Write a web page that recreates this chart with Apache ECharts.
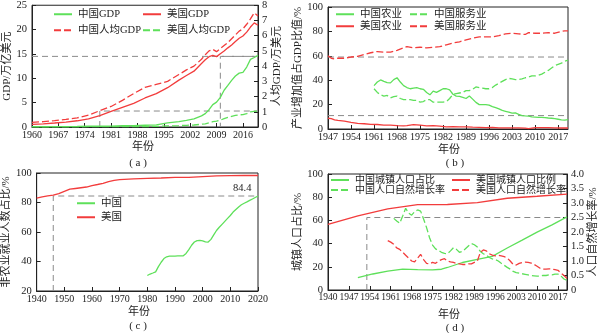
<!DOCTYPE html>
<html>
<head>
<meta charset="utf-8">
<script src="https://cdn.jsdelivr.net/npm/echarts@6/dist/echarts.min.js"></script>
<style>
  html, body { margin: 0; padding: 0; background: #fff; }
  #chart { width: 600px; height: 333px; }
</style>
</head>
<body>
<div id="chart"></div>
<script>
// ---------- (a) GDP and per-capita GDP ----------
const aYears = [1960,1963,1966,1969,1972,1975,1978,1981,1984,1987,1990,1993,1996,1999,2001,2003,2005,2006,2007,2008,2009,2010,2011,2012,2013,2014,2015,2016,2017,2018,2019,2020];
const cnGdp = [0.06,0.05,0.08,0.08,0.11,0.16,0.15,0.20,0.26,0.27,0.36,0.44,0.86,1.09,1.34,1.66,2.29,2.75,3.55,4.59,5.10,6.09,7.55,8.53,9.57,10.48,11.06,11.23,12.31,13.89,14.28,14.72];
const usGdp = [0.54,0.64,0.82,1.02,1.28,1.69,2.35,3.21,4.04,4.86,5.96,6.86,8.07,9.63,10.58,11.46,13.04,13.81,14.45,14.71,14.45,15.05,15.60,16.25,16.84,17.55,18.21,18.70,19.48,20.53,21.38,20.89];
const cnPerCap = [0.30,0.35,0.42,0.50,0.60,0.78,1.07,1.35,1.75,2.20,2.60,2.80,3.00,3.45,3.75,4.00,4.45,4.75,5.00,5.10,4.95,5.15,5.35,5.55,5.80,6.05,6.30,6.45,6.75,7.10,7.50,7.30];
const usPerCap = [0.01,0.01,0.01,0.01,0.01,0.02,0.02,0.02,0.03,0.03,0.03,0.04,0.07,0.09,0.11,0.13,0.18,0.21,0.27,0.35,0.38,0.45,0.55,0.63,0.70,0.76,0.80,0.81,0.88,0.99,1.02,1.05];
const aGuideGdpX = [1960, 2020, 2010, 2010];
const aGuideGdpY = [14.5, 14.5, 14.5, 0];
const aGuidePcX = [1978, 1978, 2020];
const aGuidePcY = [0, 1.05, 1.05];

// ---------- (b) sector shares of GDP ----------
const bUsYears = [1947,1948,1949,1950,1952,1954,1956,1958,1960,1962,1964,1966,1968,1970,1971,1973,1975,1977,1979,1981,1983,1985,1987,1989,1991,1993,1995,1997,1999,2001,2003,2005,2007,2008,2010,2012,2014,2016,2018,2019,2020];
const usAgri = [8.8,8.5,7.5,7.0,6.5,5.5,4.6,4.3,3.8,3.7,3.2,3.1,2.8,2.6,2.8,3.6,3.1,2.6,2.8,2.4,1.7,1.9,1.7,1.8,1.5,1.4,1.2,1.3,0.9,0.9,1.0,1.0,0.7,0.3,1.1,1.1,1.2,0.9,0.8,0.8,0.8];
const usServ = [60.0,58.0,57.5,58.0,58.0,59.0,59.5,61.0,62.5,63.5,63.0,63.0,64.5,66.5,67.5,66.5,67.0,66.5,67.0,67.5,69.0,70.5,71.5,73.0,74.5,75.5,75.5,75.5,76.5,78.0,78.5,78.0,77.5,79.0,78.5,78.5,79.0,78.5,80.0,80.5,80.5];
const bCnYears = [1961,1962,1963,1964,1965,1966,1967,1968,1969,1970,1971,1972,1973,1974,1975,1976,1977,1978,1979,1980,1981,1982,1983,1984,1985,1986,1987,1988,1989,1990,1991,1992,1993,1994,1995,1996,1997,1998,1999,2000,2001,2002,2003,2004,2005,2006,2007,2008,2009,2010,2011,2012,2013,2014,2015,2016,2017,2018,2019,2020];
const cnAgri = [35.5,38.5,40.2,39.0,38.0,37.8,40.5,42.0,38.5,35.5,34.0,33.0,33.5,34.0,33.0,32.5,30.0,28.0,31.0,30.0,31.5,33.0,33.0,32.0,28.5,27.0,26.8,26.0,25.0,27.0,24.5,21.8,20.0,20.0,20.0,19.5,18.3,17.5,16.5,15.2,14.5,13.8,13.0,13.2,12.0,11.0,10.7,10.6,10.0,9.8,9.6,9.5,9.3,9.0,8.8,8.5,8.0,7.5,7.3,7.6];
const cnServ = [33.0,30.0,28.0,27.0,27.5,25.5,26.5,27.0,25.0,24.0,24.0,24.0,23.5,23.5,22.0,22.5,24.0,24.0,22.0,22.0,22.0,22.0,22.5,25.0,28.5,29.0,29.5,30.0,31.5,31.5,32.5,34.5,34.0,33.5,33.0,33.0,34.0,36.0,37.5,39.0,40.5,41.5,41.0,40.5,40.5,41.0,42.0,42.5,43.5,43.5,44.0,45.0,46.5,48.0,50.0,52.0,53.0,54.0,55.5,56.5];
const bGuideLevels = [59, 11];
const bGuideSpan = [1947, 2020];

// ---------- (c) non-agricultural employment share ----------
const cUsYears = [1940,1942,1944,1946,1948,1950,1952,1954,1956,1958,1960,1962,1964,1966,1968,1970,1975,1980,1985,1990,1995,2000,2005,2010,2015,2020];
const usNonAgri = [83.0,83.8,84.5,85.0,86.0,87.5,89.0,89.5,90.0,90.5,91.5,92.2,93.0,94.2,95.0,95.5,96.0,96.4,96.6,97.0,97.0,97.5,98.0,98.2,98.3,98.3];
const cCnYears = [1980,1981,1982,1983,1984,1985,1986,1987,1988,1989,1990,1991,1992,1993,1994,1995,1996,1997,1998,1999,2000,2001,2002,2003,2004,2005,2006,2007,2008,2009,2010,2011,2012,2013,2014,2015,2016,2017,2018,2019,2020];
const cnNonAgri = [30.5,31.5,32.2,33.0,36.5,39.5,42.0,43.2,43.6,43.6,43.7,43.8,43.8,43.9,45.5,48.0,51.0,53.2,54.2,54.3,54.0,53.3,53.2,55.0,58.0,61.0,63.2,65.2,67.2,69.2,71.2,73.5,75.3,77.0,78.5,79.5,80.4,81.4,82.4,83.4,84.4];
const cGuideX = [1946, 1946, 2020];
const cGuideY = [20, 84.4, 84.4];

// ---------- (d) urbanisation and natural growth ----------
const dCnUrbYears = [1950,1955,1960,1965,1970,1975,1978,1980,1985,1990,1995,2000,2005,2010,2015,2020];
const cnUrban = [10.6,13.8,16.2,18.0,17.6,17.4,17.9,19.4,23.7,26.4,29.0,36.2,43.0,49.9,56.1,63.0];
const dUsUrbYears = [1940,1950,1960,1970,1980,1990,2000,2010,2020];
const usUrban = [56.5,64.0,70.0,73.6,73.7,75.3,79.1,80.8,82.7];
const dCnGrowYears = [1962,1963,1964,1965,1966,1967,1968,1969,1970,1971,1972,1973,1974,1975,1976,1977,1978,1979,1980,1981,1982,1983,1984,1985,1986,1987,1988,1989,1990,1991,1992,1993,1994,1995,1996,1997,1998,1999,2000,2001,2002,2003,2004,2005,2006,2007,2008,2009,2010,2011,2012,2013,2014,2015,2016,2017,2018,2019,2020];
const cnGrowth = [2.47,2.38,2.30,2.55,2.82,2.65,2.58,2.70,2.76,2.72,2.45,2.15,1.80,1.55,1.42,1.36,1.30,1.26,1.25,1.35,1.46,1.40,1.30,1.33,1.42,1.52,1.60,1.56,1.48,1.33,1.25,1.20,1.12,1.07,1.05,1.00,0.92,0.85,0.78,0.72,0.64,0.60,0.58,0.56,0.54,0.52,0.50,0.49,0.48,0.48,0.50,0.50,0.52,0.52,0.55,0.55,0.48,0.38,0.33];
const dUsGrowYears = [1960,1961,1962,1963,1964,1965,1966,1967,1968,1969,1970,1971,1972,1973,1974,1975,1976,1977,1978,1979,1980,1981,1982,1983,1984,1985,1986,1987,1988,1989,1990,1991,1992,1993,1994,1995,1996,1997,1998,1999,2000,2001,2002,2003,2004,2005,2006,2007,2008,2009,2010,2011,2012,2013,2014,2015,2016,2017,2018,2019,2020];
const usGrowth = [1.70,1.65,1.58,1.45,1.40,1.30,1.20,1.10,1.00,0.97,1.10,1.23,1.05,0.92,0.90,0.95,0.92,1.00,1.05,1.08,1.00,0.97,0.95,0.92,0.90,0.88,0.88,0.90,0.90,0.95,1.00,1.30,1.38,1.35,1.25,1.20,1.18,1.20,1.18,1.15,1.10,1.00,0.88,0.86,0.92,0.95,0.96,0.95,0.93,0.88,0.82,0.75,0.72,0.72,0.73,0.72,0.70,0.68,0.58,0.50,0.40];
const dGuideX = [1953, 1953, 2020];
const dGuideY = [0, 2.5, 2.5];

// ---------- styling ----------
const FONT = '"Liberation Serif", "Noto Sans CJK SC", serif';
const GREEN = '#5ee05a';
const RED = '#f23c3c';
const GREY = '#8a8a8a';
const INK = '#222';

const pairs = (xs, ys) => xs.map((x, i) => [x, ys[i]]).filter(p => p[1] != null);

function line(name, xs, ys, color, dashed, gi, yi) {
  return {
    name, type: 'line', xAxisIndex: gi, yAxisIndex: yi,
    data: pairs(xs, ys), symbol: 'none', silent: true,
    lineStyle: { color, width: 1.3, type: dashed ? [7, 3] : 'solid' },
    itemStyle: { color }
  };
}
function guide(xs, ys, gi, yi, extra) {
  return Object.assign({
    type: 'line', xAxisIndex: gi, yAxisIndex: yi,
    data: pairs(xs, ys), symbol: 'none', silent: true, z: 1,
    lineStyle: { color: GREY, width: 1, type: [6, 4] }
  }, extra || {});
}

const tick = { show: true, inside: true, length: 4, lineStyle: { color: INK } };
const axLine = { show: true, lineStyle: { color: INK, width: 1 } };
const lab = (m, size, extra) => Object.assign({ fontFamily: FONT, fontSize: size, color: INK, margin: m }, extra || {});
const nameStyle = { fontFamily: FONT, fontSize: 11, color: INK };
const yearFmt = v => String(v);

function xAx(gi, min, max, interval, hideMax, size) {
  return {
    type: 'value', gridIndex: gi, min, max, interval,
    axisLine: axLine, axisTick: tick, splitLine: { show: false },
    axisLabel: lab(3, size || 10, { showMaxLabel: !hideMax, showMinLabel: true, hideOverlap: false, formatter: yearFmt })
  };
}
function yAx(gi, min, max, interval, pos, name, gap, fmt) {
  return {
    type: 'value', gridIndex: gi, min, max, interval, position: pos,
    name, nameLocation: 'middle', nameGap: gap, nameTextStyle: nameStyle,
    axisLine: axLine, axisTick: tick, splitLine: { show: false },
    axisLabel: lab(pos === 'right' ? 4 : 5, 10.5, fmt ? { formatter: fmt } : {})
  };
}

function leg(name, left, top, size) {
  return {
    data: [name], left, top, padding: 0, itemGap: 0,
    itemWidth: 18, itemHeight: 8, selectedMode: false,
    itemStyle: { opacity: 0 },
    textStyle: { fontFamily: FONT, fontSize: size || 10.5, color: INK, padding: [0, 0, 0, 1] }
  };
}
function txt(text, x, y) {
  return { type: 'text', x, y, silent: true,
    style: { text, fill: INK, font: '11px ' + FONT, align: 'center', verticalAlign: 'middle' } };
}

const option = {
  animation: false,
  backgroundColor: '#fff',
  grid: [
    { left: 32, top: 5, width: 226, height: 122, show: true, borderColor: INK, borderWidth: 1 },
    { left: 328, top: 7, width: 240, height: 122, show: true, borderColor: INK, borderWidth: 1 },
    { left: 32, top: 173, width: 226, height: 118, show: true, borderColor: INK, borderWidth: 1 },
    { left: 328, top: 174, width: 241, height: 116, show: true, borderColor: INK, borderWidth: 1 }
  ],
  xAxis: [
    xAx(0, 1960, 2020, 7, true),
    xAx(1, 1947, 2020, 7, true),
    xAx(2, 1940, 2020, 10, false),
    xAx(3, 1940, 2020, 7, true, 9.5)
  ],
  yAxis: [
    yAx(0, 0, 25, 5, 'left', 'GDP/万亿美元', 14),
    yAx(0, 0, 8, 1, 'right', '人均GDP/万美元', 13),
    yAx(1, 0, 100, 20, 'left', '产业增加值占GDP比值/%', 18),
    yAx(2, 20, 100, 20, 'left', '非农业就业人数占比/%', 16),
    yAx(3, 0, 100, 20, 'left', '城镇人口占比/%', 18),
    yAx(3, 0, 4, 0.5, 'right', '人口自然增长率/%', 18, v => (v === 0 ? '0' : v.toFixed(1)))
  ],
  legend: [
    leg('中国GDP', 53, 9), leg('美国GDP', 142, 9),
    leg('中国人均GDP', 53, 25), leg('美国人均GDP', 142, 25),
    leg('中国农业', 335, 9), leg('中国服务业', 409, 9),
    leg('美国农业', 335, 21), leg('美国服务业', 409, 21),
    leg('中国', 76, 198), leg('美国', 76, 212),
    leg('中国城镇人口占比', 330, 175, 10), leg('美国城镇人口比例', 451, 175, 10),
    leg('中国人口自然增长率', 330, 185, 10), leg('美国人口自然增长率', 451, 185, 10)
  ],
  graphic: [
    txt('年份', 143, 147), txt('( a )', 138, 163),
    txt('年份', 449, 150), txt('( b )', 455, 163),
    txt('年份', 139, 312), txt('( c )', 138, 326),
    txt('年份', 449, 315), txt('( d )', 455, 328)
  ],
  series: [
    guide(aGuideGdpX, aGuideGdpY, 0, 0),
    guide(aGuidePcX, aGuidePcY, 0, 1),
    line('中国GDP', aYears, cnGdp, GREEN, false, 0, 0),
    line('美国GDP', aYears, usGdp, RED, false, 0, 0),
    line('中国人均GDP', aYears, cnPerCap, RED, true, 0, 1),
    line('美国人均GDP', aYears, usPerCap, GREEN, true, 0, 1),

    guide(bGuideSpan, [bGuideLevels[0], bGuideLevels[0]], 1, 2),
    guide(bGuideSpan, [bGuideLevels[1], bGuideLevels[1]], 1, 2),
    line('中国农业', bCnYears, cnAgri, GREEN, false, 1, 2),
    line('中国服务业', bCnYears, cnServ, GREEN, true, 1, 2),
    line('美国农业', bUsYears, usAgri, RED, false, 1, 2),
    line('美国服务业', bUsYears, usServ, RED, true, 1, 2),

    guide(cGuideX, cGuideY, 2, 3, {
      endLabel: { show: true, fontFamily: FONT, fontSize: 10.5, color: INK,
        distance: 0, offset: [-25, -8], formatter: p => String(p.value[1]) }
    }),
    line('中国', cCnYears, cnNonAgri, GREEN, false, 2, 3),
    line('美国', cUsYears, usNonAgri, RED, false, 2, 3),

    guide(dGuideX, dGuideY, 3, 5),
    line('中国城镇人口占比', dCnUrbYears, cnUrban, GREEN, false, 3, 4),
    line('美国城镇人口比例', dUsUrbYears, usUrban, RED, false, 3, 4),
    line('中国人口自然增长率', dCnGrowYears, cnGrowth, GREEN, true, 3, 5),
    line('美国人口自然增长率', dUsGrowYears, usGrowth, RED, true, 3, 5)
  ]
};

const chart = echarts.init(document.getElementById('chart'), null, { renderer: 'canvas' });
chart.setOption(option);
</script>
</body>
</html>
